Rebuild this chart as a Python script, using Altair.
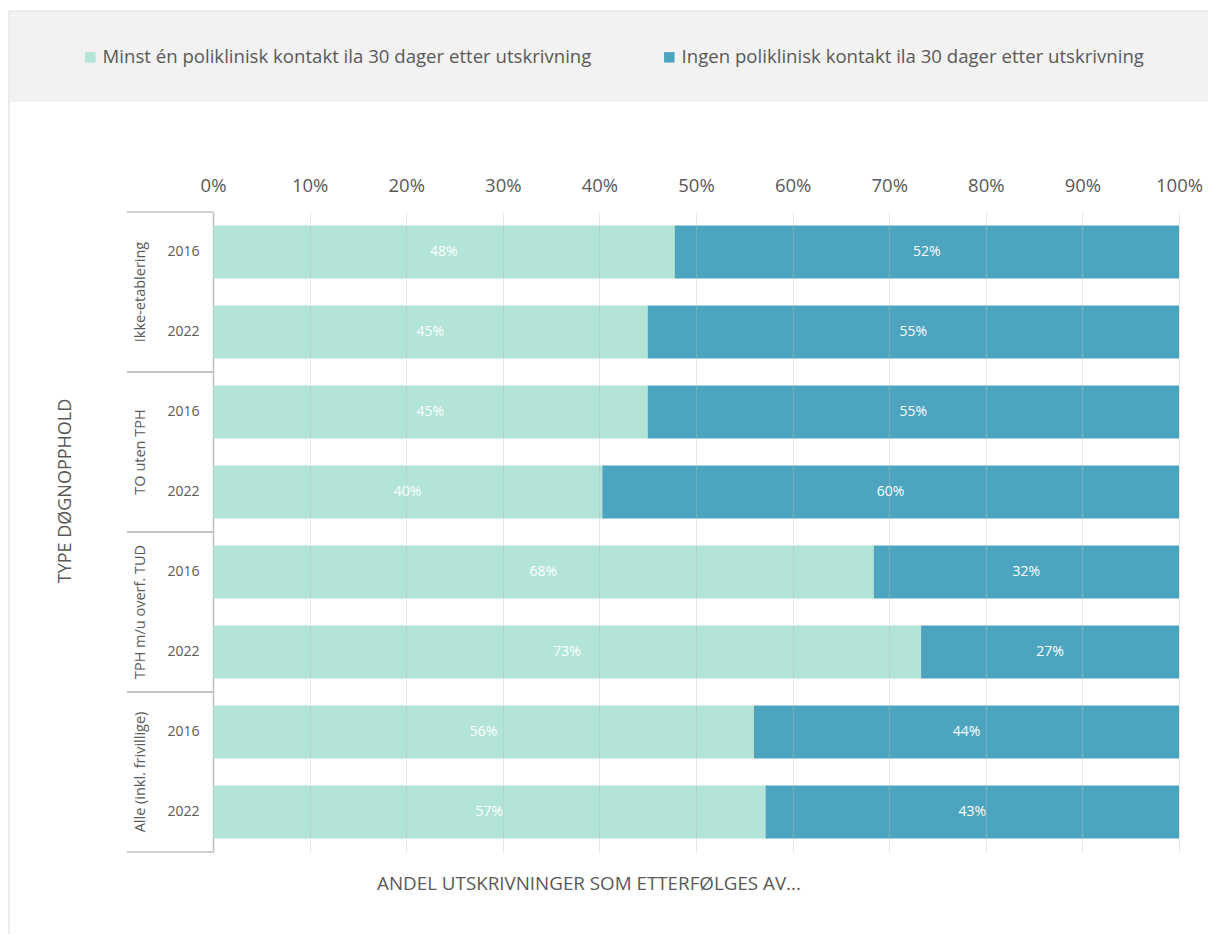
import altair as alt
import pandas as pd

groups = ["Ikke-etablering", "Ikke-etablering", "TO uten TPH", "TO uten TPH",
          "TPH m/u overf. TUD", "TPH m/u overf. TUD",
          "Alle (inkl. frivillige)", "Alle (inkl. frivillige)"]
years = ["2016", "2022", "2016", "2022", "2016", "2022", "2016", "2022"]
minst = [47.8, 45.0, 45.0, 40.3, 68.4, 73.3, 56.0, 57.2]
ingen = [52.2, 55.0, 55.0, 59.7, 31.6, 26.7, 44.0, 42.8]
series = ["Minst én poliklinisk kontakt ila 30 dager etter utskrivning",
          "Ingen poliklinisk kontakt ila 30 dager etter utskrivning"]
colors = ["#b3e4d8", "#4ca4bf"]
x_ticks = [0, 10, 20, 30, 40, 50, 60, 70, 80, 90, 100]

FONT = "Open Sans"
GREY = "#595959"

keys = [f"{g}|{y}" for g, y in zip(groups, years)]
rows = []
for k, g, y, a, b in zip(keys, groups, years, minst, ingen):
    rows.append({"key": k, "group": g, "year": y, "series": series[0], "order": 0, "value": a})
    rows.append({"key": k, "group": g, "year": y, "series": series[1], "order": 1, "value": b})
df = pd.DataFrame(rows)
rowdf = pd.DataFrame({"key": keys, "group": groups, "year": years})
one = pd.DataFrame({"a": [0]})

yscale = alt.Scale(domain=keys, paddingInner=0, paddingOuter=0)

y_axis = alt.Axis(orient="left", title=None, domain=True, domainColor="#bfbfbf",
                  domainWidth=1.5, ticks=False, grid=False, labelPadding=14,
                  labelFont=FONT, labelFontSize=14, labelColor=GREY,
                  labelExpr="split(datum.value, '|')[1]")
x_axis = alt.Axis(orient="top", title=None, values=x_ticks, labelExpr="datum.value + '%'",
                  domain=False, ticks=False, grid=True, gridColor="#bfbfbf",
                  gridOpacity=0.4, gridWidth=1, labelPadding=17, labelFont=FONT,
                  labelFontSize=18.5, labelColor=GREY, labelFlush=False, zindex=1)

bars = alt.Chart(df).mark_bar(size=53).encode(
    y=alt.Y("key:N", scale=yscale, axis=y_axis),
    x=alt.X("value:Q", stack="zero", scale=alt.Scale(domain=[0, 100], nice=False), axis=x_axis),
    color=alt.Color("series:N", scale=alt.Scale(domain=series, range=colors),
                    legend=alt.Legend(orient="none", legendX=-132, legendY=-164,
                                      direction="horizontal", title=None,
                                      symbolType="square", symbolSize=110,
                                      symbolStrokeWidth=0, symbolOpacity=1,
                                      labelFont=FONT, labelFontSize=18.6,
                                      labelColor=GREY, labelLimit=1000,
                                      labelOffset=3, columnPadding=68)),
    order=alt.Order("order:Q"),
)

labels = alt.Chart(df).transform_stack(
    stack="value", groupby=["key"], as_=["v0", "v1"],
    sort=[alt.SortField("order", order="ascending")]
).transform_calculate(
    mid="(datum.v0 + datum.v1) / 2", lab="format(round(datum.value), 'd') + '%'"
).mark_text(color="white", font=FONT, fontSize=14, align="center", baseline="middle").encode(
    y=alt.Y("key:N", scale=yscale),
    x=alt.X("mid:Q"),
    text="lab:N",
)

group_text = alt.Chart(rowdf).transform_filter("datum.year == '2016'").mark_text(
    angle=270, font=FONT, fontSize=14.5, color=GREY, align="center", baseline="middle"
).encode(
    y=alt.Y("key:N", scale=yscale, bandPosition=1),
    x=alt.value(-72),
    text="group:N",
)

sep_top = alt.Chart(rowdf).transform_filter("datum.year == '2016'").mark_rule(
    color="#bfbfbf", strokeWidth=1.5
).encode(y=alt.Y("key:N", scale=yscale, bandPosition=0), x=alt.value(-86), x2=alt.value(0))
sep_bot = alt.Chart(rowdf).transform_filter("datum.year == '2022'").mark_rule(
    color="#bfbfbf", strokeWidth=1.5
).encode(y=alt.Y("key:N", scale=yscale, bandPosition=1), x=alt.value(-86), x2=alt.value(0))

legend_box = alt.Chart(one).mark_rect(color="#f2f2f2").encode(
    x=alt.value(-203), x2=alt.value(995), y=alt.value(-200), y2=alt.value(-110))
border_left = alt.Chart(one).mark_rule(color="#d9d9d9", strokeWidth=1).encode(
    x=alt.value(-204), y=alt.value(-201), y2=alt.value(730))
border_top = alt.Chart(one).mark_rule(color="#d9d9d9", strokeWidth=1).encode(
    x=alt.value(-204), x2=alt.value(995), y=alt.value(-201))

y_title = alt.Chart(one).mark_text(
    text="TYPE DØGNOPPHOLD", angle=270, font=FONT, fontSize=18, color=GREY,
    align="center", baseline="middle").encode(x=alt.value(-147), y=alt.value(279))
x_title = alt.Chart(one).mark_text(
    text="ANDEL UTSKRIVNINGER SOM ETTERFØLGES AV...", font=FONT, fontSize=18.8, color=GREY,
    align="center", baseline="middle").encode(x=alt.value(376), y=alt.value(672))

chart = alt.layer(
    legend_box, border_left, border_top, bars, labels, group_text, sep_top, sep_bot,
    y_title, x_title
).properties(
    width=966, height=640,
    autosize=alt.AutoSizeParams(type="none"),
    padding={"left": 213, "top": 212, "right": 29, "bottom": 82},
    background="white",
).configure_view(stroke=None)

chart.save("out.html", embed_options={"renderer": "svg", "actions": False})
